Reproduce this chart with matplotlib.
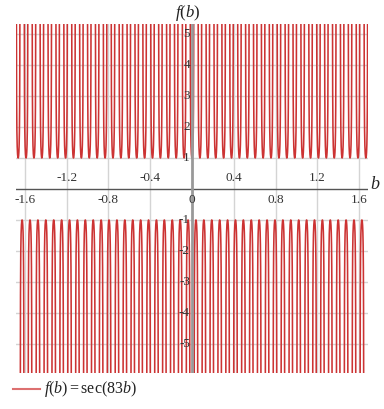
import numpy as np
import matplotlib
matplotlib.use("Agg")
import matplotlib.pyplot as plt

plt.rcParams["mathtext.fontset"] = "custom"
plt.rcParams["mathtext.rm"] = "Liberation Serif"
plt.rcParams["mathtext.it"] = "Liberation Serif:italic"

# data / parameters
frequency = 83
x_ticks = [-1.6, -1.2, -0.8, -0.4, 0, 0.4, 0.8, 1.2, 1.6]
x_tick_labels = ["-1.6", "-1.2", "-0.8", "-0.4", "0", "0.4", "0.8", "1.2", "1.6"]
y_ticks = [-5, -4, -3, -2, -1, 1, 2, 3, 4, 5]
y_tick_labels = ["-5", "-4", "-3", "-2", "-1", "1", "2", "3", "4", "5"]
x_range = (-1.686, 1.686)
y_range = (-5.935, 5.32)

b = np.linspace(x_range[0], x_range[1], 40000)
fb = 1.0 / np.cos(frequency * b)
fb[np.abs(fb) > 30] = np.nan

fig = plt.figure(figsize=(3.84, 4.09), dpi=100)
ax = fig.add_axes([16/384, (409-373)/409, 352/384, 349/409])
ax.set_xlim(*x_range)
ax.set_ylim(*y_range)
for s in ax.spines.values():
    s.set_visible(False)
ax.set_xticks([])
ax.set_yticks([])

grid_c = "#d4d4d4"
for xt in x_ticks:
    if xt != 0:
        ax.axvline(xt, color=grid_c, lw=1, zorder=0)
for yt in y_ticks:
    ax.axhline(yt, color=grid_c, lw=1, zorder=0)

ax.plot(b, fb, color="#cc3333", lw=1.15, zorder=2)

ax.axhline(0, color="#555555", lw=1, zorder=3)
ax.axvline(0, color="#999999", lw=2, zorder=3)

font = "Liberation Serif"
tc = "#333333"
for i, (xt, lab) in enumerate(zip(x_ticks, x_tick_labels)):
    if i % 2 == 0:
        ax.text(xt, -0.16, lab, ha="center", va="top", fontsize=9.5,
                family=font, color=tc, zorder=4, clip_on=False)
    else:
        ax.text(xt, 0.16, lab, ha="center", va="bottom", fontsize=9.5,
                family=font, color=tc, zorder=4, clip_on=False)
for yt, lab in zip(y_ticks, y_tick_labels):
    ax.text(-0.02, yt, lab, ha="right", va="center", fontsize=9.5,
            family=font, color=tc, zorder=4, clip_on=False)

ax.text(1.755, 0.13, "b", ha="center", va="center", fontsize=13,
        family=font, style="italic", color="#222222", clip_on=False)
ax.text(-0.04, 5.68, "$f(b)$", ha="center", va="center", fontsize=12,
        color="#222222", clip_on=False)

# legend
fig.lines.append(plt.Line2D([13/384, 40/384], [1 - 389/409, 1 - 389/409],
                            color="#dd7070", lw=1.5, transform=fig.transFigure))
fig.text(44/384, 1 - 389/409, r"$f(b) = \mathrm{sec}(83b)$", ha="left",
         va="center", fontsize=11.5, color="#222222")

fig.savefig("out.png", dpi=100)
